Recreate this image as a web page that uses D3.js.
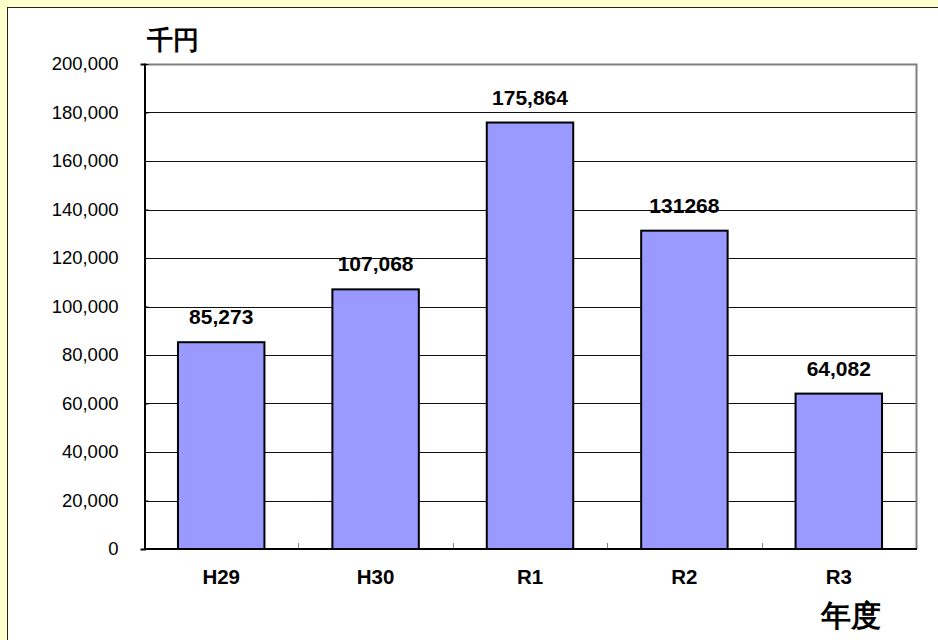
<!DOCTYPE html>
<html>
<head>
<meta charset="utf-8">
<script src="https://cdn.jsdelivr.net/npm/d3@7"></script>
<style>
  body { margin: 0; background: #ffffcc; }
  svg { display: block; }
  text { font-family: Arial, "Liberation Sans", sans-serif; }
</style>
</head>
<body>
<div id="chart"></div>
<script>
const categories = ["H29", "H30", "R1", "R2", "R3"];
const values = [85273, 107068, 175864, 131268, 64082];
const valueLabels = ["85,273", "107,068", "175,864", "131268", "64,082"];
const yTicks = [0, 20000, 40000, 60000, 80000, 100000, 120000, 140000, 160000, 180000, 200000];

function drawChart() {
  const width = 938, height = 640;
  const plotLeft = 144, plotRight = 916, plotTop = 64, plotBottom = 549;

  const svg = d3.select("#chart").append("svg")
    .attr("width", width)
    .attr("height", height);

  // white panel
  svg.append("rect")
    .attr("x", 7.5).attr("y", 7.5)
    .attr("width", width).attr("height", height)
    .attr("fill", "#fff")
    .attr("stroke", "#222");

  const x = d3.scaleBand()
    .domain(categories)
    .range([plotLeft, plotRight])
    .paddingInner(0.44)
    .paddingOuter(0.22);

  const y = d3.scaleLinear()
    .domain([0, 200000])
    .range([plotBottom, plotTop]);

  // gridlines
  svg.append("g")
    .selectAll("line")
    .data(yTicks.filter(d => d > 0 && d < 200000))
    .join("line")
      .attr("x1", plotLeft).attr("x2", plotRight)
      .attr("y1", d => Math.round(y(d)) + 0.5)
      .attr("y2", d => Math.round(y(d)) + 0.5)
      .attr("stroke", "#111")
      .attr("stroke-width", 1);

  // plot border: gray top/right
  svg.append("path")
    .attr("d", `M${plotLeft},${plotTop + 0.5}H${plotRight + 0.5}V${plotBottom}`)
    .attr("fill", "none")
    .attr("stroke", "#808080")
    .attr("stroke-width", 2);

  // y axis
  const yAxis = svg.append("g")
    .attr("transform", `translate(${plotLeft + 0.5},0)`)
    .call(d3.axisLeft(y).tickValues(yTicks).tickSize(4).tickPadding(22)
      .tickFormat(d3.format(",")));
  yAxis.select(".domain").attr("stroke", "#000").attr("stroke-width", 2);
  yAxis.selectAll(".tick line").attr("stroke", "#000").attr("x2", 4).attr("x1", 0);
  yAxis.selectAll("text").attr("font-size", 18.5).attr("fill", "#000")
    .attr("font-family", "Arial, 'Liberation Sans', sans-serif");

  // x axis boundary ticks
  const bounds = d3.range(1, categories.length).map(i => plotLeft + x.step() * i);
  svg.append("g")
    .selectAll("line")
    .data(bounds)
    .join("line")
      .attr("x1", d => Math.round(d) + 0.5).attr("x2", d => Math.round(d) + 0.5)
      .attr("y1", plotBottom - 6).attr("y2", plotBottom)
      .attr("stroke", "#808080");

  // bars
  svg.append("g")
    .selectAll("rect")
    .data(values)
    .join("rect")
      .attr("x", (d, i) => x(categories[i]))
      .attr("y", d => y(d))
      .attr("width", x.bandwidth())
      .attr("height", d => plotBottom - y(d))
      .attr("fill", "#9999ff")
      .attr("stroke", "#000")
      .attr("stroke-width", 2);

  // x axis line
  svg.append("line")
    .attr("x1", plotLeft).attr("x2", plotRight + 1)
    .attr("y1", plotBottom).attr("y2", plotBottom)
    .attr("stroke", "#000").attr("stroke-width", 2);

  // value labels
  svg.append("g")
    .selectAll("text")
    .data(values)
    .join("text")
      .attr("x", (d, i) => x(categories[i]) + x.bandwidth() / 2)
      .attr("y", d => y(d) - 18)
      .attr("text-anchor", "middle")
      .attr("font-size", 21)
      .attr("font-weight", "bold")
      .text((d, i) => valueLabels[i]);

  // category labels
  svg.append("g")
    .selectAll("text")
    .data(categories)
    .join("text")
      .attr("x", d => x(d) + x.bandwidth() / 2)
      .attr("y", 584)
      .attr("text-anchor", "middle")
      .attr("font-size", 20.5)
      .attr("font-weight", "bold")
      .text(d => d);

  svg.append("text")
    .attr("x", 147).attr("y", 49)
    .attr("font-size", 26)
    .attr("font-weight", "bold")
    .attr("font-family", "'Noto Sans CJK JP', sans-serif")
    .text("千円");

  svg.append("text")
    .attr("x", 821).attr("y", 626)
    .attr("font-size", 30)
    .attr("font-weight", "bold")
    .attr("font-family", "'Noto Sans CJK JP', sans-serif")
    .text("年度");
}

drawChart();
</script>
</body>
</html>
